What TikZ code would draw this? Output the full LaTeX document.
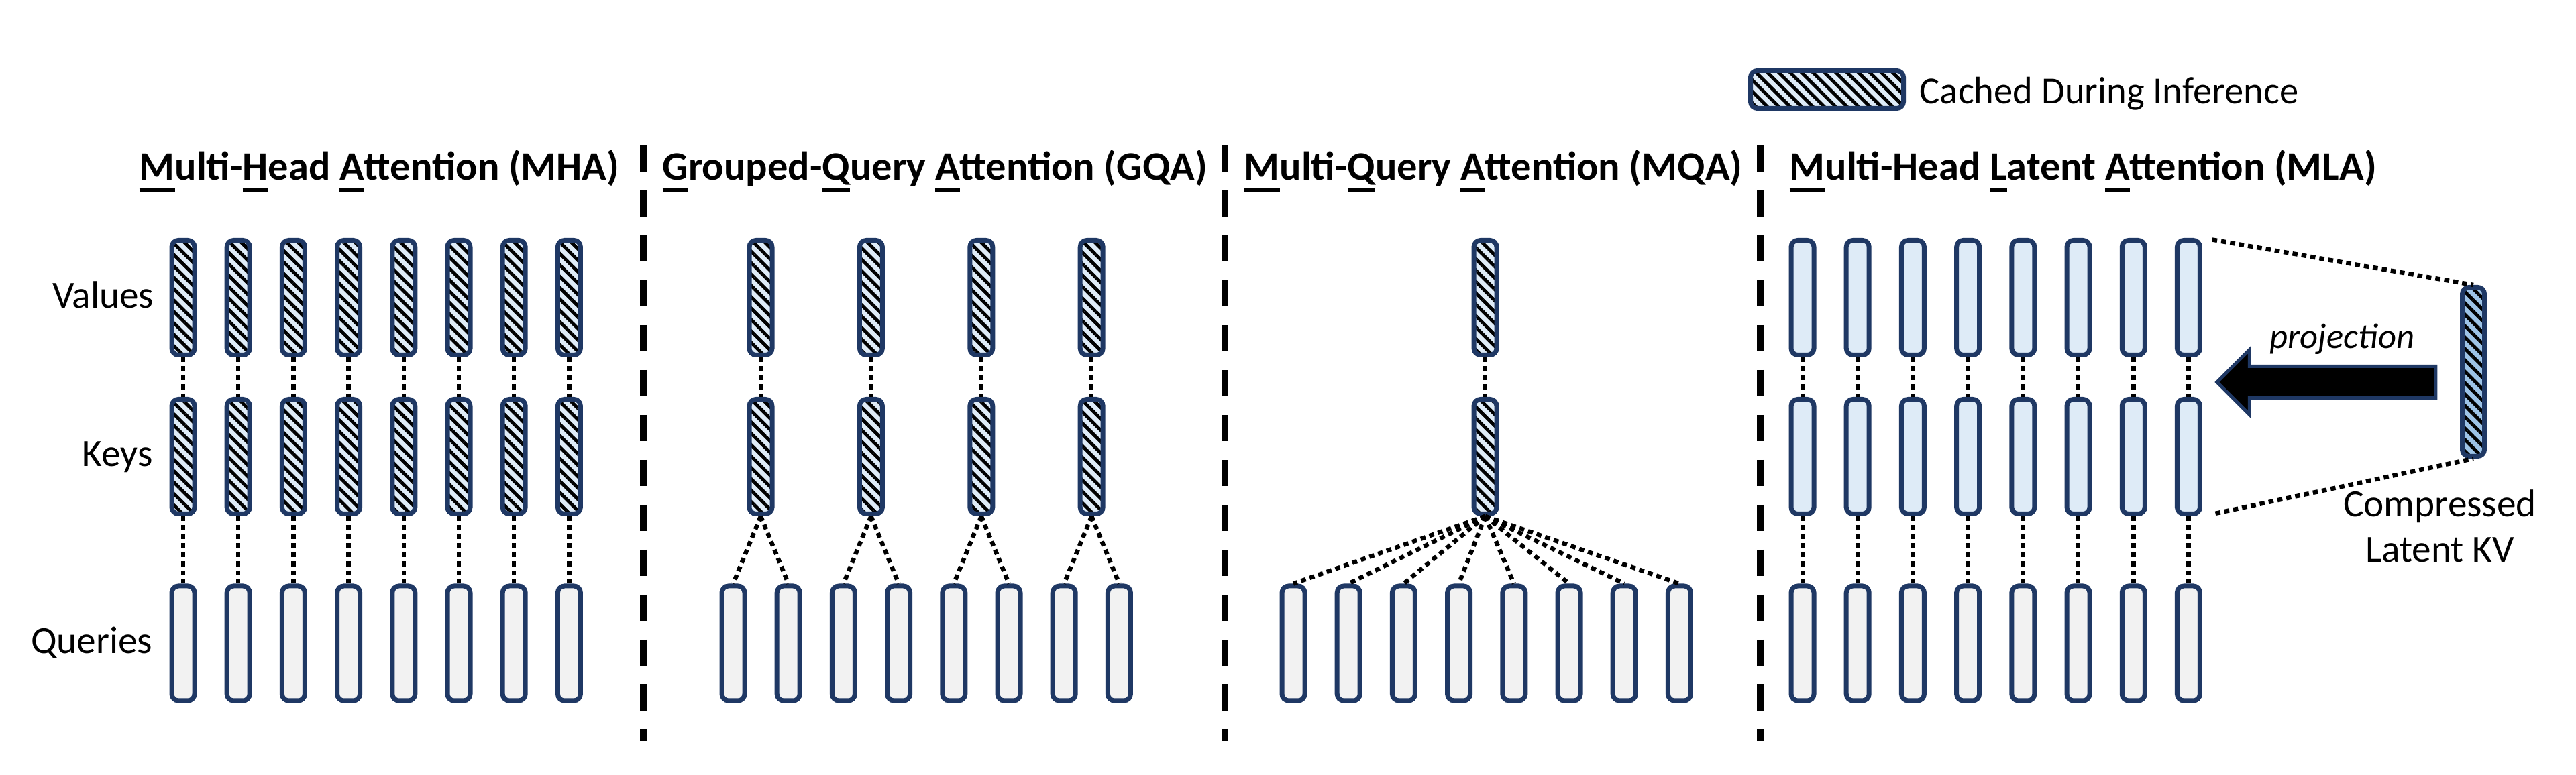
\documentclass[tikz,border=0pt]{standalone}
\usepackage{fontspec}
\setmainfont{Carlito}
\usetikzlibrary{patterns.meta,shapes.arrows}

\definecolor{navy}{HTML}{1F3864}
\definecolor{kvblue}{HTML}{DEEBF7}
\definecolor{latblue}{HTML}{9DC3E6}
\definecolor{qgray}{HTML}{F2F2F2}

% underline for the first letter of a word
\newcommand\ufirst[1]{\leavevmode\setbox0\hbox{#1}\rlap{\rule[-0.17cm]{\wd0}{0.05cm}}\box0}

\tikzset{
  head/.style={draw=navy, line width=0.07cm, rounded corners=0.1cm,
    minimum width=0.34cm, minimum height=1.71cm, inner sep=0pt},
  query/.style={head, fill=qgray},
  plainkv/.style={head, fill=kvblue},
  cached/.style={head, preaction={fill=kvblue},
    pattern={Lines[angle=-45,distance=0.12cm,line width=0.05cm]}, pattern color=black},
  title/.style={font=\fontsize{17.2}{20}\selectfont\bfseries, anchor=base west, inner sep=0pt},
  rowlab/.style={font=\fontsize{16.3}{19}\selectfont, anchor=base east, inner sep=0pt},
  dotline/.style={line width=0.065cm, dash pattern=on 0.075cm off 0.06cm},
  sepline/.style={line width=0.093cm, dash pattern=on 0.39cm off 0.28cm},
}

\begin{document}
\begin{tikzpicture}
\useasboundingbox (0,0) rectangle (38.4,-11.56);

% legend
\node[cached, minimum width=2.28cm, minimum height=0.56cm] (KEY) at (27.235,-1.335) {};
\node[font=\fontsize{16.1}{19}\selectfont, anchor=base west, inner sep=0pt] (KEYT) at (28.61,-1.55) {Cached During Inference};

% titles
\node[title] (TA) at (2.07,-2.69) {\ufirst{M}ulti-\ufirst{H}ead \ufirst{A}ttention (MHA)};
\node[title] (TB) at (9.87,-2.69) {\ufirst{G}rouped-\ufirst{Q}uery \ufirst{A}ttention (GQA)};
\node[title] (TC) at (18.54,-2.69) {\ufirst{M}ulti-\ufirst{Q}uery \ufirst{A}ttention (MQA)};
\node[title] (TD) at (26.67,-2.69) {\ufirst{M}ulti-Head \ufirst{L}atent \ufirst{A}ttention (MLA)};

% row labels
\node[rowlab] (RV) at (2.30,-4.60) {Values};
\node[rowlab] (RK) at (2.28,-6.96) {Keys};
\node[rowlab] (RQ) at (2.28,-9.75) {Queries};

% separators
\draw[sepline] (9.59,-2.17) -- (9.59,-11.06);
\draw[sepline] (18.26,-2.17) -- (18.26,-11.06);
\draw[sepline] (26.24,-2.17) -- (26.24,-11.06);

% MHA
\foreach \i in {1,...,8} {
  \node[cached] (MV\i) at ({2.73+0.822*(\i-1)},-4.44) {};
  \node[cached] (MK\i) at ({2.73+0.822*(\i-1)},-6.81) {};
  \node[query] (MQ\i) at ({2.73+0.822*(\i-1)},-9.595) {};
  \draw[dotline] (MV\i.south) -- (MK\i.north);
  \draw[dotline] (MK\i.south) -- (MQ\i.north);
}

% GQA
\foreach \i in {1,...,8}
  \node[query] (GQ\i) at ({10.93+0.822*(\i-1)},-9.595) {};
\foreach \j [evaluate=\j as \a using int(2*\j-1), evaluate=\j as \b using int(2*\j)] in {1,...,4} {
  \node[cached] (GV\j) at ({11.34+1.644*(\j-1)},-4.44) {};
  \node[cached] (GK\j) at ({11.34+1.644*(\j-1)},-6.81) {};
  \draw[dotline] (GV\j.south) -- (GK\j.north);
  \draw[dotline] (GK\j.south) -- (GQ\a.north);
  \draw[dotline] (GK\j.south) -- (GQ\b.north);
}

% MQA
\node[cached] (QV) at (22.14,-4.44) {};
\node[cached] (QK) at (22.14,-6.81) {};
\draw[dotline] (QV.south) -- (QK.north);
\foreach \i in {1,...,8} {
  \node[query] (QQ\i) at ({19.28+0.822*(\i-1)},-9.595) {};
  \draw[dotline] (QK.south) -- (QQ\i.north);
}

% MLA
\foreach \i in {1,...,8} {
  \node[plainkv] (LV\i) at ({26.87+0.822*(\i-1)},-4.44) {};
  \node[plainkv] (LK\i) at ({26.87+0.822*(\i-1)},-6.81) {};
  \node[query] (LQ\i) at ({26.87+0.822*(\i-1)},-9.595) {};
  \draw[dotline] (LV\i.south) -- (LK\i.north);
  \draw[dotline] (LK\i.south) -- (LQ\i.north);
}
\node[cached, preaction={fill=latblue}, minimum width=0.33cm, minimum height=2.52cm] (LC) at (36.87,-5.545) {};
\draw[dotline, shorten <=0.15cm] (LV8.north east) -- (LC.north);
\draw[dotline, shorten <=0.2cm] (LK8.south east) -- (LC.south);

\node[single arrow, draw=navy, fill=black, line width=0.05cm, shape border rotate=180,
  minimum height=3.26cm, inner xsep=0pt, inner ysep=0.21cm,
  single arrow head extend=0.25cm, single arrow tip angle=90] (PROJ) at (34.795,-5.70) {};
\node[font=\fontsize{15}{18}\selectfont\itshape, anchor=base west, inner sep=0pt] (PT) at (33.83,-5.20) {projection};
\node[font=\fontsize{16.3}{19.6}\selectfont, align=center, anchor=base, inner sep=0pt] (LCT) at (36.37,-8.39) {Compressed\\Latent KV};
\end{tikzpicture}
\end{document}
